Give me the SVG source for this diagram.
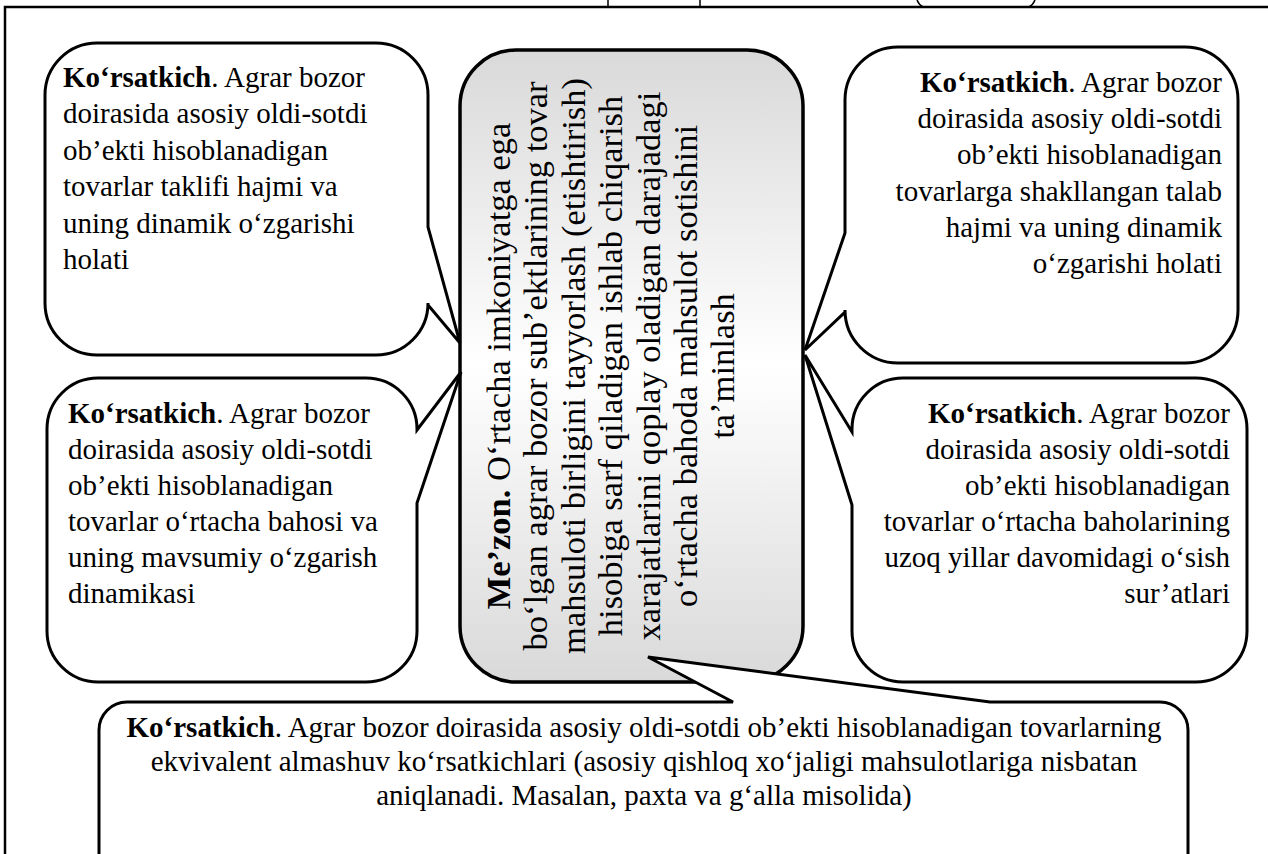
<svg xmlns="http://www.w3.org/2000/svg" width="1268" height="854" viewBox="0 0 1268 854">
  <defs>
    <linearGradient id="centerFill" x1="0" y1="0" x2="0" y2="1">
      <stop offset="0" stop-color="#d9d9d9"/>
      <stop offset="0.5" stop-color="#ffffff"/>
      <stop offset="1" stop-color="#d9d9d9"/>
    </linearGradient>
  </defs>
  <style>
    .frame { fill: none; stroke: #000; stroke-width: 2.5; }
    .frag { fill: none; stroke: #000; stroke-width: 1.5; }
    .callout { fill: #fff; stroke: #000; stroke-width: 3; stroke-linejoin: miter; }
    .center { fill: url(#centerFill); stroke: #000; stroke-width: 3.5; }
    .t { font-family: "Liberation Serif", "Times New Roman", serif; font-size: 29px; fill: #000; }
    .c { font-family: "Liberation Serif", "Times New Roman", serif; font-size: 34.5px; fill: #000; }
    .b { font-weight: bold; }
  </style>
  <rect width="1268" height="854" fill="#fff"/>

  <g id="frame">
    <path class="frame" d="M5,854 V7 H1268"/>
    <path class="frag" d="M608,0 V7 M700,0 V7 M917,0 Q919,5 923,7 M1035,0 Q1033,5 1029,7"/>
  </g>

  <g id="criterion">
    <rect class="center" x="460" y="50" width="343" height="632" rx="56" ry="56"/>
    <g class="c" text-anchor="middle">
      <text transform="translate(510,366) rotate(-90)"><tspan class="b">Me’zon.</tspan> Oʻrtacha imkoniyatga ega</text>
      <text transform="translate(547.4,366) rotate(-90)">boʻlgan agrar bozor subʼektlarining tovar</text>
      <text transform="translate(584.8,366) rotate(-90)">mahsuloti birligini tayyorlash (etishtirish)</text>
      <text transform="translate(622.2,366) rotate(-90)">hisobiga sarf qiladigan ishlab chiqarish</text>
      <text transform="translate(659.6,366) rotate(-90)">xarajatlarini qoplay oladigan darajadagi</text>
      <text transform="translate(697,366) rotate(-90)">oʻrtacha bahoda mahsulot sotishini</text>
      <text transform="translate(734.4,366) rotate(-90)">taʼminlash</text>
    </g>
  </g>

  <g id="connectors">
    <!-- callout wedges are part of each callout outline -->
  </g>

  <g id="indicator-supply">
    <path class="callout" d="M97,43 H376 A52,52 0 0 1 428,95 V227 L460,343 L428,305 V303 A52,52 0 0 1 376,355 H97 A52,52 0 0 1 45,303 V95 A52,52 0 0 1 97,43 Z"/>
    <g class="t">
      <text x="63" y="87"><tspan class="b">Ko‘rsatkich</tspan>. Agrar bozor</text>
      <text x="63" y="123.4">doirasida asosiy oldi-sotdi</text>
      <text x="63" y="159.8">ob’ekti hisoblanadigan</text>
      <text x="63" y="196.2">tovarlar taklifi hajmi va</text>
      <text x="63" y="232.6">uning dinamik o‘zgarishi</text>
      <text x="63" y="269">holati</text>
    </g>
  </g>

  <g id="indicator-price">
    <path class="callout" d="M98,378 H366 A51,51 0 0 1 417,429 V430 L461,372 L417,503 V631 A51,51 0 0 1 366,682 H98 A51,51 0 0 1 47,631 V429 A51,51 0 0 1 98,378 Z"/>
    <g class="t">
      <text x="68" y="423"><tspan class="b">Ko‘rsatkich</tspan>. Agrar bozor</text>
      <text x="68" y="459">doirasida asosiy oldi-sotdi</text>
      <text x="68" y="495">ob’ekti hisoblanadigan</text>
      <text x="68" y="531">tovarlar o‘rtacha bahosi va</text>
      <text x="68" y="567">uning mavsumiy o‘zgarish</text>
      <text x="68" y="603">dinamikasi</text>
    </g>
  </g>

  <g id="indicator-demand">
    <path class="callout" d="M898,47 H1185 A53,53 0 0 1 1238,100 V310 A53,53 0 0 1 1185,363 H898 A53,53 0 0 1 845,310 V312 L805,350 L845,233 V100 A53,53 0 0 1 898,47 Z"/>
    <g class="t" text-anchor="end">
      <text x="1222" y="92"><tspan class="b">Ko‘rsatkich</tspan>. Agrar bozor</text>
      <text x="1222" y="128.2">doirasida asosiy oldi-sotdi</text>
      <text x="1222" y="164.4">ob’ekti hisoblanadigan</text>
      <text x="1222" y="200.6">tovarlarga shakllangan talab</text>
      <text x="1222" y="236.8">hajmi va uning dinamik</text>
      <text x="1222" y="273">o‘zgarishi holati</text>
    </g>
  </g>

  <g id="indicator-growth">
    <path class="callout" d="M903,378 H1196 A51,51 0 0 1 1247,429 V631 A51,51 0 0 1 1196,682 H903 A51,51 0 0 1 852,631 V505 L805,355 L852,432 V429 A51,51 0 0 1 903,378 Z"/>
    <g class="t" text-anchor="end">
      <text x="1230" y="423"><tspan class="b">Ko‘rsatkich</tspan>. Agrar bozor</text>
      <text x="1230" y="459">doirasida asosiy oldi-sotdi</text>
      <text x="1230" y="495">ob’ekti hisoblanadigan</text>
      <text x="1230" y="531">tovarlar o‘rtacha baholarining</text>
      <text x="1230" y="567">uzoq yillar davomidagi o‘sish</text>
      <text x="1230" y="603">sur’atlari</text>
    </g>
  </g>

  <g id="indicator-exchange">
    <path class="callout" d="M127,702 H733 L648,657 L990,702 H1160 A28,28 0 0 1 1188,730 V880 H99 V730 A28,28 0 0 1 127,702 Z"/>
    <g class="t" text-anchor="middle">
      <text x="644" y="737"><tspan class="b">Ko‘rsatkich</tspan>. Agrar bozor doirasida asosiy oldi-sotdi ob’ekti hisoblanadigan tovarlarning</text>
      <text x="644" y="771">ekvivalent almashuv ko‘rsatkichlari (asosiy qishloq xo‘jaligi mahsulotlariga nisbatan</text>
      <text x="644" y="805">aniqlanadi. Masalan, paxta va g‘alla misolida)</text>
    </g>
  </g>
</svg>
